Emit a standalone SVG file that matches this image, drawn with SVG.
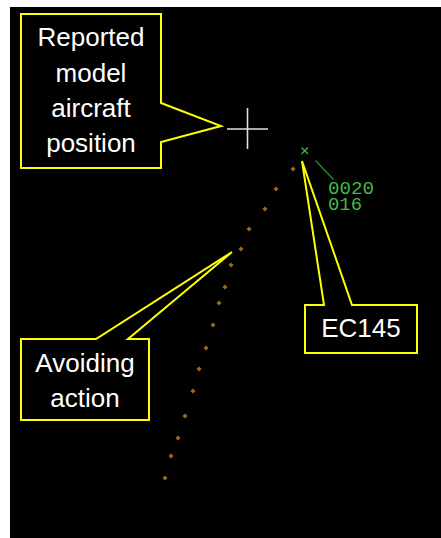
<svg xmlns="http://www.w3.org/2000/svg" width="441" height="538" viewBox="0 0 441 538">
<style>
.callout{fill:#000;stroke:#ffff00;stroke-width:2;stroke-linejoin:miter}
.lbl{font-family:"Liberation Sans",Arial,sans-serif;font-size:26px;fill:#ffffff;text-anchor:middle}
.dot{fill:#a0681a}
.tag{font-family:"Liberation Mono","DejaVu Sans Mono",monospace;font-size:18px;fill:#44b844}
</style>
<defs>
<path id="d" class="dot" d="M0,-2.5 L2.5,0 L0,2.5 L-2.5,0 Z"/>
</defs>
<rect x="0" y="0" width="441" height="538" fill="#ffffff"/>
<rect x="10" y="7" width="431" height="531" fill="#000000"/>
<g id="track">
<use href="#d" x="293" y="169"/>
<use href="#d" x="276" y="189"/>
<use href="#d" x="265" y="209"/>
<use href="#d" x="249" y="229"/>
<use href="#d" x="241" y="249"/>
<use href="#d" x="231" y="265"/>
<use href="#d" x="225" y="287"/>
<use href="#d" x="219" y="303"/>
<use href="#d" x="213" y="325"/>
<use href="#d" x="206" y="348"/>
<use href="#d" x="199" y="369"/>
<use href="#d" x="193" y="391"/>
<use href="#d" x="185" y="416"/>
<use href="#d" x="178" y="438"/>
<use href="#d" x="171" y="456"/>
<use href="#d" x="165" y="478"/>
</g>
<g id="model-position" stroke="#e0e0e0" stroke-width="1.6">
<line x1="227" y1="129" x2="268" y2="129"/>
<line x1="247.5" y1="108" x2="247.5" y2="149"/>
</g>
<g id="ec145-target">
<g stroke="#44b844" stroke-width="1.2">
<line x1="301.5" y1="147.5" x2="308" y2="154"/>
<line x1="308" y1="147.5" x2="301.5" y2="154"/>
</g>
<line x1="315.5" y1="160.5" x2="333.5" y2="179.5" stroke="#2e8e2e" stroke-width="1.2"/>
<text class="tag" x="328" y="194" textLength="46" lengthAdjust="spacingAndGlyphs">0020</text>
<text class="tag" x="328" y="210" textLength="34" lengthAdjust="spacingAndGlyphs">016</text>
</g>
<g id="callout-reported">
<polygon class="callout" points="21,14 161,14 161,103 221,126 161,142 161,168 21,168"/>
<text class="lbl" x="91" y="46">Reported</text>
<text class="lbl" x="91" y="82">model</text>
<text class="lbl" x="91" y="117">aircraft</text>
<text class="lbl" x="91" y="152">position</text>
</g>
<g id="callout-avoiding">
<polygon class="callout" points="21,339 96,339 232,252 128,339 149,339 149,420 21,420"/>
<text class="lbl" x="85" y="372">Avoiding</text>
<text class="lbl" x="85" y="407">action</text>
</g>
<g id="callout-ec145">
<polygon class="callout" points="305,305 324,305 302,161 352,305 417,305 417,353 305,353"/>
<text class="lbl" x="361" y="337">EC145</text>
</g>
</svg>
